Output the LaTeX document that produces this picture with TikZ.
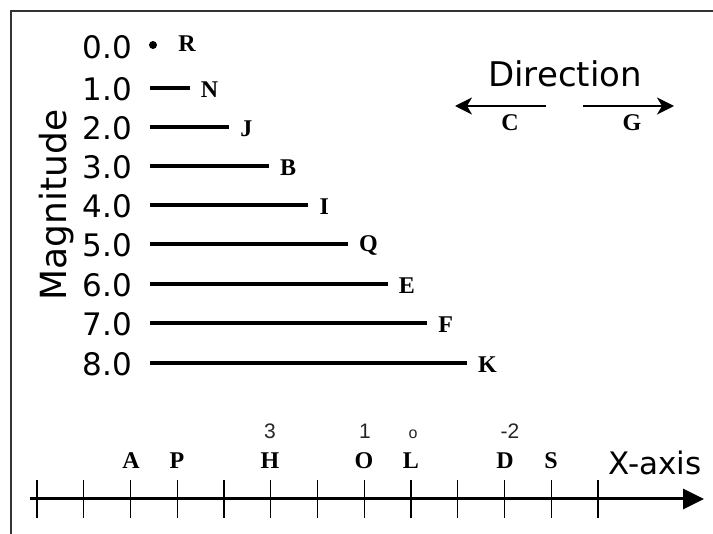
\documentclass[tikz,border=0pt]{standalone}
\usepackage{fontspec}
\setmainfont{DejaVu Sans}
\newfontfamily\lettfont{Liberation Serif}
\newfontfamily\handfont{Liberation Sans}
\usetikzlibrary{arrows.meta}
\begin{document}
\begin{tikzpicture}[x=1pt,y=-1pt,
  numlab/.style={anchor=east,inner sep=0pt,font=\fontsize{31}{31}\selectfont},
  letlab/.style={inner sep=0pt,font=\lettfont\bfseries\fontsize{24}{24}\selectfont},
  handlab/.style={inner sep=0pt,font=\handfont\fontsize{21}{21}\selectfont,text=black!85},
  bar/.style={line width=3.5pt},
  framel/.style={line width=2.2pt,draw=black!80},
  dirarrow/.style={line width=2.2pt,-{Stealth[length=17pt,width=17pt,inset=5pt]}},
  tick/.style={line width=1.4pt},
]
\useasboundingbox (0,0) rectangle (713,534);
\fill[white] (0,0) rectangle (713,534);
% frame
\draw[framel] (11,534) -- (11,11) -- (713,11);
% Magnitude label
\node[rotate=90,inner sep=0pt,font=\fontsize{36}{36}\selectfont] (mag) at (57,205) {Magnitude};
% magnitude rows
\foreach \n/\yy/\lab in {0/46/R,1/88/N,2/127/J,3/166/B,4/205/I,5/244/Q,6/284/E,7/323/F,8/363/K}{
  \node[numlab] (num\n) at (132,\yy+1) {\n.0};
  \coordinate (s\n) at (150,\yy);
  \coordinate (e\n) at (150+39.6*\n,\yy);
}
\fill (153,45) circle (4pt);
\node[letlab] (labR) at (187,44) {R};
\foreach \n/\lab in {1/N,2/J,3/B,4/I,5/Q,6/E,7/F,8/K}{
  \draw[bar] (s\n) -- (e\n);
  \node[letlab,anchor=west] (lab\lab) at ([xshift=11pt,yshift=-2pt]e\n) {\lab};
}
% Direction
\node[inner sep=0pt,font=\fontsize{34}{34}\selectfont] (dir) at (565,74) {Direction};
\coordinate (ct) at (546,106);
\coordinate (ch) at (455,106);
\coordinate (gt) at (583,106);
\coordinate (gh) at (674,106);
\draw[dirarrow] (ct) -- (ch);
\draw[dirarrow] (gt) -- (gh);
\node[letlab] (labC) at (510,123) {C};
\node[letlab] (labG) at (632,123) {G};
% X axis
\coordinate (ax0) at (30,499);
\coordinate (ax1) at (704,499);
\draw[line width=3pt,-{Triangle[length=21pt,width=20pt]}] (ax0) -- (ax1);
\foreach \i in {0,...,12}{
  \draw[tick] (37+46.75*\i,480) -- (37+46.75*\i,518);
}
\foreach \x/\lab in {131/A,177/P,270/H,364/O,411/L,505/D,551/S}{
  \node[letlab] (ax\lab) at (\x,461) {\lab};
}
\node[handlab] (hH) at (270,431) {3};
\node[handlab] (hO) at (365,431) {1};
\node[handlab,font=\handfont\fontsize{16}{16}\selectfont] (hL) at (413,434) {o};
\node[handlab] (hD) at (510,431) {-2};
\node[inner sep=0pt,font=\fontsize{31}{31}\selectfont] (xaxis) at (655,463) {X-axis};
\end{tikzpicture}
\end{document}
